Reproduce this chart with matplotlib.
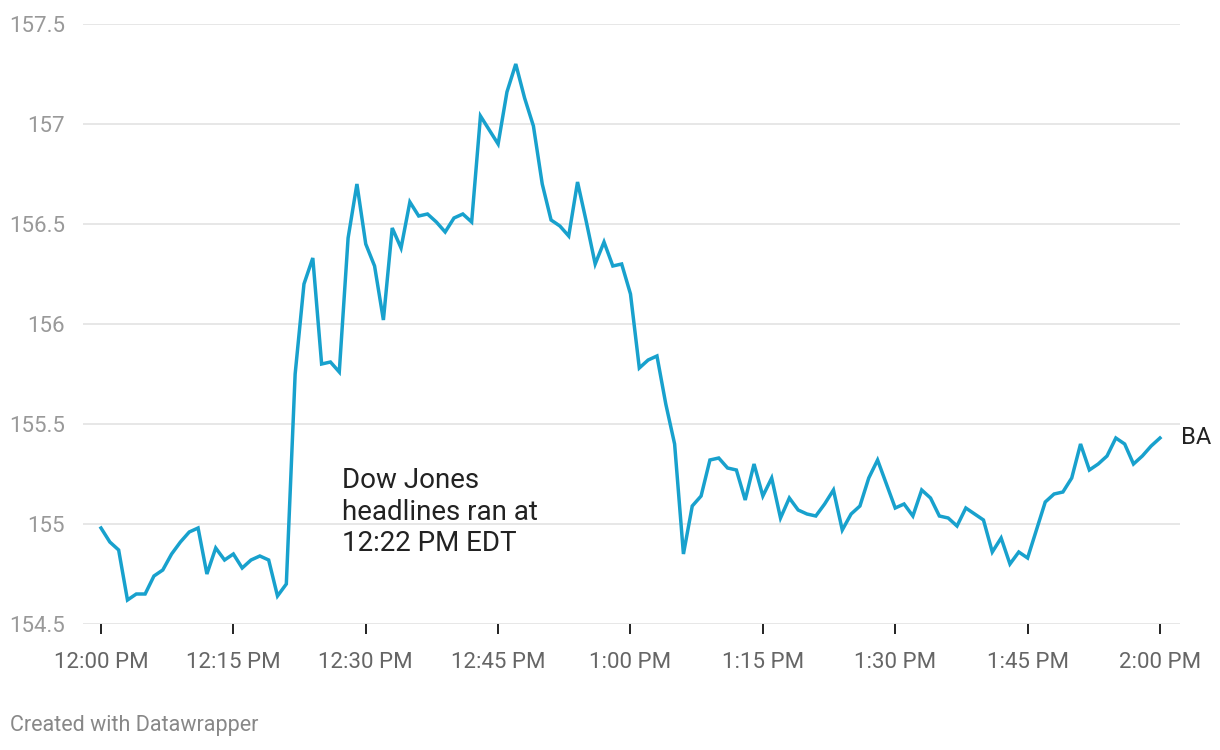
import matplotlib
matplotlib.use("Agg")
import matplotlib.pyplot as plt

plt.rcParams["font.family"] = ["Roboto", "DejaVu Sans"]

# BA Kurs, ein Wert pro Minute ab 12:00 PM
minuten = list(range(121))
kurs = [
    154.98, 154.91, 154.87, 154.62, 154.65, 154.65, 154.74, 154.77, 154.85, 154.91,
    154.96, 154.98, 154.75, 154.88, 154.82, 154.85, 154.78, 154.82, 154.84, 154.82,
    154.64, 154.70, 155.75, 156.20, 156.33, 155.80, 155.81, 155.76, 156.43, 156.70,
    156.40, 156.29, 156.02, 156.48, 156.38, 156.61, 156.54, 156.55, 156.51, 156.46,
    156.53, 156.55, 156.51, 157.04, 156.97, 156.90, 157.16, 157.30, 157.13, 156.99,
    156.70, 156.52, 156.49, 156.44, 156.71, 156.51, 156.30, 156.41, 156.29, 156.30,
    156.15, 155.78, 155.82, 155.84, 155.60, 155.40, 154.85, 155.09, 155.14, 155.32,
    155.33, 155.28, 155.27, 155.12, 155.30, 155.14, 155.23, 155.03, 155.13, 155.07,
    155.05, 155.04, 155.10, 155.17, 154.97, 155.05, 155.09, 155.23, 155.32, 155.20,
    155.08, 155.10, 155.04, 155.17, 155.13, 155.04, 155.03, 154.99, 155.08, 155.05,
    155.02, 154.86, 154.93, 154.80, 154.86, 154.83, 154.97, 155.11, 155.15, 155.16,
    155.23, 155.40, 155.27, 155.30, 155.34, 155.43, 155.40, 155.30, 155.34, 155.39,
    155.43,
]

x_ticks = [0, 15, 30, 45, 60, 75, 90, 105, 120]
x_labels = ["12:00 PM", "12:15 PM", "12:30 PM", "12:45 PM", "1:00 PM",
            "1:15 PM", "1:30 PM", "1:45 PM", "2:00 PM"]
y_ticks = [154.5, 155, 155.5, 156, 156.5, 157, 157.5]
y_labels = ["154.5", "155", "155.5", "156", "156.5", "157", "157.5"]

fig = plt.figure(figsize=(12.2, 7.5), dpi=100)
ax = fig.add_axes([83 / 1220, 1 - 624 / 750, (1180 - 83) / 1220, 600 / 750])

ax.plot(minuten, kurs, color="#18a1cd", linewidth=2.5, solid_joinstyle="miter", zorder=3)

ax.set_xlim(-2.04, 122.27)
ax.set_ylim(154.5, 157.5)
ax.set_yticks(y_ticks)
ax.set_yticklabels(y_labels)
ax.set_xticks(x_ticks)
ax.set_xticklabels(x_labels)

ax.grid(axis="y", color="#e3e3e3", linewidth=1.2, zorder=0)
for s in ax.spines.values():
    s.set_visible(False)

ax.tick_params(axis="y", length=0, pad=13, labelsize=16, labelcolor="#999999")
ax.tick_params(axis="x", length=7, width=1.4, color="#222222", pad=13,
               labelsize=16, labelcolor="#666666")

ax.text(27.3, 155.06, "Dow Jones\nheadlines ran at\n12:22 PM EDT", fontsize=20,
        color="#222222", va="center", ha="left", linespacing=1.2)
ax.annotate("BA", xy=(120, 155.43), xytext=(15, 0), textcoords="offset points",
            fontsize=17, color="#222222", va="center", ha="left", annotation_clip=False)

fig.text(10 / 1220, 1 - 725 / 750, "Created with Datawrapper", fontsize=15.5,
         color="#888888", va="center", ha="left")

fig.savefig("out.png", dpi=100)
